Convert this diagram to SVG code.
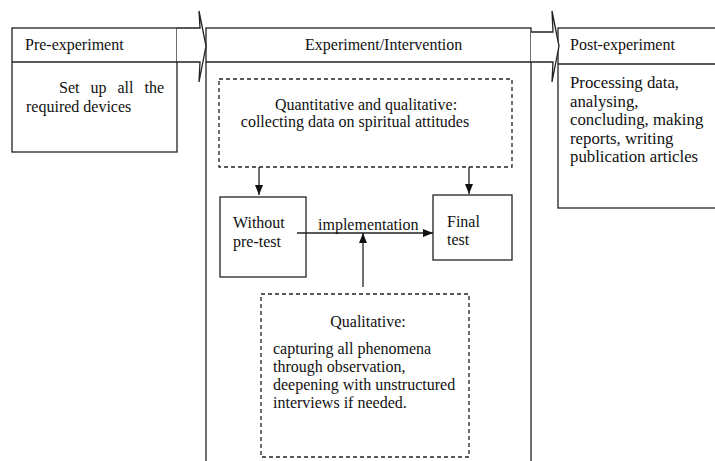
<svg xmlns="http://www.w3.org/2000/svg" width="715" height="461" viewBox="0 0 715 461">
<style>
.box{fill:#fff;stroke:#222;stroke-width:1.3}
.dash{fill:none;stroke:#222;stroke-width:1.3;stroke-dasharray:4,3}
.ln{fill:none;stroke:#222;stroke-width:1.3}
.t{font-family:"Liberation Serif","Times New Roman",serif;font-size:16px;fill:#111}
.tb{font-family:"Liberation Serif","Times New Roman",serif;font-size:16.8px;fill:#111}
</style>
<defs>
<marker id="ah" markerWidth="10" markerHeight="8" refX="10" refY="4" orient="auto" markerUnits="userSpaceOnUse">
<path d="M0,0 L10,4 L0,8 Z" fill="#111"/>
</marker>
</defs>
<rect width="715" height="461" fill="#fff"/>
<g id="pre">
<rect class="box" x="12" y="28" width="165" height="124"/>
<line class="ln" x1="12" y1="62" x2="177" y2="62"/>
<text class="t" x="25" y="50">Pre-experiment</text>
<text class="t" x="59" y="93" word-spacing="7">Set up all the</text>
<text class="t" x="26" y="112">required devices</text>
</g>
<g id="experiment">
<rect class="box" x="206" y="28" width="325" height="450"/>
<line class="ln" x1="206" y1="62" x2="531" y2="62"/>
<text class="t" x="305" y="50">Experiment/Intervention</text>
</g>
<g id="post">
<rect class="box" x="558" y="28" width="170" height="180"/>
<line class="ln" x1="558" y1="64" x2="728" y2="64"/>
<text class="t" x="570" y="50">Post-experiment</text>
<text class="tb" x="570" y="88">Processing data,</text>
<text class="tb" x="570" y="106.5">analysing,</text>
<text class="tb" x="570" y="125">concluding, making</text>
<text class="tb" x="570" y="143.5">reports, writing</text>
<text class="tb" x="570" y="162">publication articles</text>
</g>
<g id="quant">
<rect class="dash" x="219" y="79" width="293" height="88"/>
<text class="t" x="366" y="110" text-anchor="middle">Quantitative and qualitative:</text>
<text class="t" x="355" y="127" text-anchor="middle">collecting data on spiritual attitudes</text>
</g>
<g id="without">
<rect class="box" x="220" y="197" width="86" height="80"/>
<text class="t" x="233" y="228">Without</text>
<text class="t" x="233" y="247">pre-test</text>
</g>
<g id="final">
<rect class="box" x="433" y="195" width="79" height="65"/>
<text class="t" x="447" y="227">Final</text>
<text class="t" x="447" y="245">test</text>
</g>
<g id="qual">
<rect class="dash" x="261" y="294" width="208" height="163"/>
<text class="t" x="368" y="327" text-anchor="middle">Qualitative:</text>
<text class="t" x="273" y="354">capturing all phenomena</text>
<text class="t" x="273" y="372">through observation,</text>
<text class="t" x="273" y="390">deepening with unstructured</text>
<text class="t" x="273" y="408">interviews if needed.</text>
</g>
<g id="connectors">
<path class="box" d="M177,28 H200 L199,11 L206,46 L199,82 L200,62 H177"/>
<path class="box" d="M531,32 H553 L552,11 L559,46 L552,82 L553,62 H531"/>
<line class="ln" x1="259" y1="167" x2="259" y2="195" marker-end="url(#ah)"/>
<line class="ln" x1="469" y1="167" x2="469" y2="194" marker-end="url(#ah)"/>
<line class="ln" x1="297" y1="233" x2="433" y2="233" marker-end="url(#ah)"/>
<text class="t" x="318" y="230">implementation</text>
<line class="ln" x1="363" y1="287" x2="363" y2="233" marker-end="url(#ah)"/>
</g>
</svg>
